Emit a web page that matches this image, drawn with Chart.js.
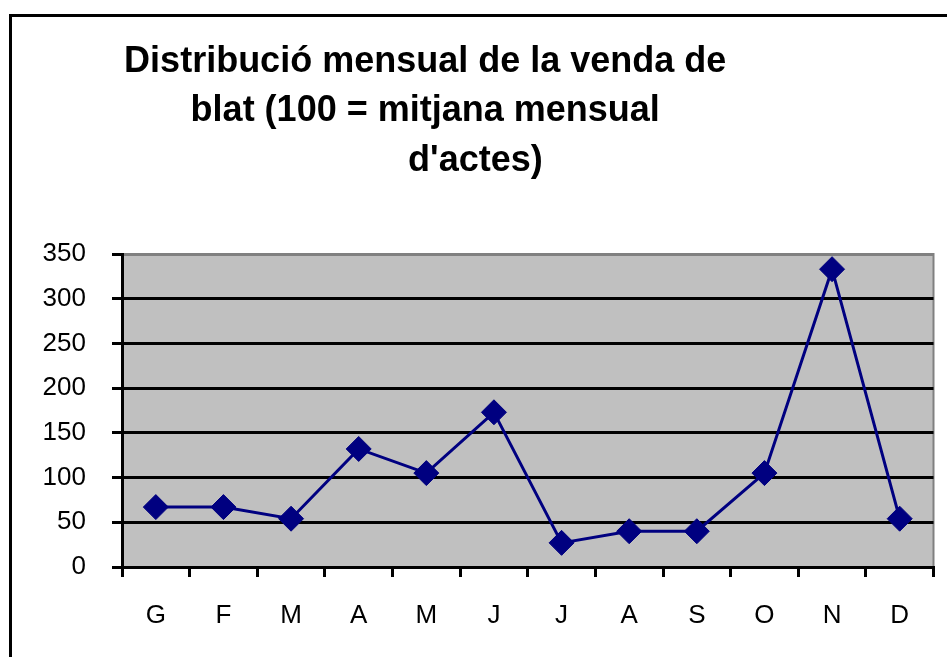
<!DOCTYPE html>
<html>
<head>
<meta charset="utf-8">
<script src="https://cdn.jsdelivr.net/npm/chart.js@4.4.0/dist/chart.umd.min.js"></script>
<style>
  html, body { margin: 0; padding: 0; background: #fff; overflow: hidden; }
  #wrap { position: absolute; left: 0; top: 0; width: 947px; height: 657px; }
  #frame { position: absolute; left: 9px; top: 14px; width: 2000px; height: 2000px;
           border-left: 3px solid #000; border-top: 3px solid #000; pointer-events: none; }
</style>
</head>
<body>
<div id="wrap">
  <canvas id="myChart" width="947" height="657"></canvas>
  <div id="frame"></div>
</div>
<script>
const MONTHS = ['G', 'F', 'M', 'A', 'M', 'J', 'J', 'A', 'S', 'O', 'N', 'D'];
const SALES = [67, 67, 54, 132, 105, 173, 27, 40, 40, 105, 333, 54];
const TITLE_LINES = ['Distribució mensual de la venda de', 'blat (100 = mitjana mensual', 'd\'actes)'];
const Y_MAX = 350;
const Y_STEP = 50;

const FONT = "'Liberation Sans', Arial, sans-serif";

// gray plot area with thin gray frame, like the old spreadsheet chart
const plotBackground = {
  id: 'plotBackground',
  beforeDraw(chart) {
    const { ctx, chartArea: a } = chart;
    ctx.save();
    ctx.fillStyle = '#c0c0c0';
    ctx.fillRect(a.left, a.top, a.right - a.left, a.bottom - a.top);
    ctx.strokeStyle = '#808080';
    ctx.lineWidth = 2;
    ctx.strokeRect(a.left, a.top, a.right - a.left, a.bottom - a.top);
    ctx.restore();
  },
};

// the title is wrapped and centred a bit left of the middle, last line off to the right
const wrappedTitle = {
  id: 'wrappedTitle',
  afterDraw(chart) {
    const { ctx, width } = chart;
    const centres = [0.449, 0.449, 0.502];
    ctx.save();
    ctx.font = `bold 36px ${FONT}`;
    ctx.fillStyle = '#000';
    ctx.textAlign = 'center';
    ctx.textBaseline = 'middle';
    TITLE_LINES.forEach((line, i) => {
      ctx.fillText(line, width * centres[i], 62 + i * 49.5);
    });
    ctx.restore();
  },
};

const chartElement = document.getElementById('myChart').getContext('2d');

const chart = new Chart(chartElement, {
  type: 'line',
  data: {
    labels: MONTHS,
    datasets: [{
      label: 'Venda de blat',
      data: SALES,
      borderColor: '#000080',
      backgroundColor: '#000080',
      borderWidth: 3,
      tension: 0,
      pointStyle: 'rectRot',
      pointRadius: 12.5,
      pointBorderWidth: 1,
      pointBackgroundColor: '#000080',
      pointBorderColor: '#000080',
    }],
  },
  options: {
    responsive: false,
    animation: false,
    layout: { padding: { top: 254, left: 0, right: 11, bottom: 20 } },
    plugins: {
      legend: { display: false },
      title: { display: false },
      tooltip: { enabled: false },
    },
    scales: {
      x: {
        offset: true,
        afterFit: (scale) => { scale.height = 70; },
        grid: {
          offset: true,
          drawOnChartArea: false,
          color: '#000',
          lineWidth: 3,
          tickLength: 10,
        },
        border: { display: true, color: '#000', width: 3 },
        ticks: {
          color: '#000',
          padding: 23,
          font: { family: FONT, size: 26 },
        },
      },
      y: {
        min: 0,
        max: Y_MAX,
        afterFit: (scale) => { scale.width = 122; },
        grid: {
          color: (ctx) => (ctx.tick && ctx.tick.value === Y_MAX ? '#808080' : '#000'),
          tickColor: '#000',
          lineWidth: 3,
          tickLength: 10,
        },
        border: { display: true, color: '#000', width: 3 },
        ticks: {
          stepSize: Y_STEP,
          color: '#000',
          padding: 26,
          font: { family: FONT, size: 26 },
        },
      },
    },
  },
  plugins: [plotBackground, wrappedTitle],
});
</script>
</body>
</html>
